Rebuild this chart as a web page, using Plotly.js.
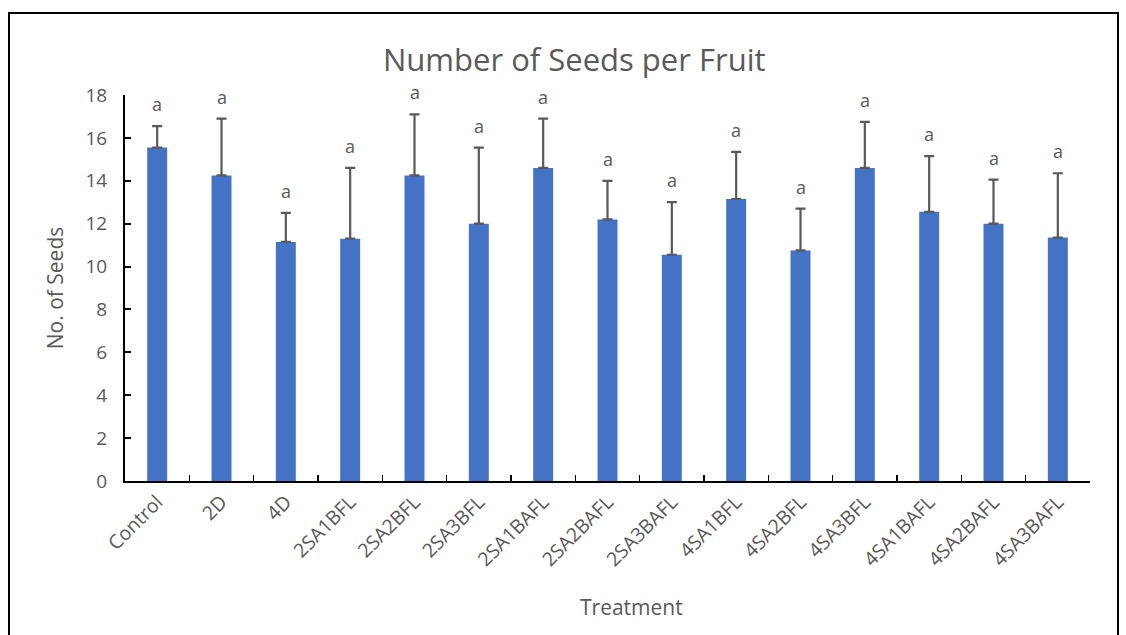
<!DOCTYPE html>
<html>
<head>
<meta charset="utf-8">
<script src="https://cdn.plot.ly/plotly-3.0.1.min.js"></script>
<style>
html,body{margin:0;padding:0;background:#fff;}
#wrap{position:relative;width:1126px;height:635px;}
#chart{width:1126px;height:635px;}
#frame{position:absolute;left:8px;top:12px;width:1111px;height:630px;border:2px solid #000;pointer-events:none;box-sizing:border-box;}
</style>
</head>
<body>
<div id="wrap"><div id="chart"></div><div id="frame"></div></div>
<script>
const categories = ["Control","2D","4D","2SA1BFL","2SA2BFL","2SA3BFL","2SA1BAFL","2SA2BAFL","2SA3BAFL","4SA1BFL","4SA2BFL","4SA3BFL","4SA1BAFL","4SA2BAFL","4SA3BAFL"];
const means = [15.55, 14.25, 11.15, 11.3, 14.25, 12.0, 14.6, 12.2, 10.55, 13.15, 10.75, 14.6, 12.55, 12.0, 11.35];
const sds   = [1.0, 2.65, 1.35, 3.3, 2.85, 3.55, 2.3, 1.8, 2.45, 2.2, 1.95, 2.15, 2.6, 2.05, 3.0];
const letters = ["a","a","a","a","a","a","a","a","a","a","a","a","a","a","a"];
const yTicks = [0,2,4,6,8,10,12,14,16,18];

const FONT = "'Open Sans', Lato, sans-serif";
const GRAY = "#595959";

const trace = {
  type: "bar",
  x: categories,
  y: means,
  marker: {color: "#4472C4"},
  error_y: {type: "data", symmetric: false, array: sds, arrayminus: sds.map(() => 0), color: GRAY, thickness: 2.2, width: 5},
  hoverinfo: "x+y"
};

const annotations = categories.map((c, i) => ({
  x: c, y: means[i] + sds[i], xref: "x", yref: "y",
  text: letters[i], showarrow: false, yanchor: "bottom", yshift: 8,
  font: {family: FONT, size: 18, color: GRAY}
}));
annotations.push({
  x: 0.525, y: 0, xref: "paper", yref: "paper", yanchor: "top", yshift: -110,
  text: "Treatment", showarrow: false, font: {family: FONT, size: 21, color: GRAY}
});

const layout = {
  width: 1126, height: 635,
  margin: {l: 125, r: 36, t: 95, b: 154},
  paper_bgcolor: "#fff", plot_bgcolor: "#fff",
  showlegend: false,
  bargap: 0.69,
  title: {text: "Number of Seeds per Fruit", x: 0.51, xanchor: "center", y: 0.905, yanchor: "middle",
          font: {family: FONT, size: 31, color: GRAY}},
  xaxis: {
    type: "category", tickson: "boundaries", ticks: "inside", ticklen: 6, tickcolor: "#000", tickwidth: 1.5,
    showline: true, linecolor: "#000", linewidth: 2, showgrid: false, zeroline: false,
    tickangle: -45, tickfont: {family: FONT, size: 19.5, color: GRAY}
  },
  yaxis: {
    range: [0, 18], tickvals: yTicks, ticks: "inside", ticklen: 6, tickcolor: "#000", tickwidth: 2,
    showline: true, linecolor: "#000", linewidth: 2, showgrid: false, zeroline: false,
    tickfont: {family: FONT, size: 19, color: GRAY}, ticklabelstandoff: 12,
    title: {text: "No. of Seeds", standoff: 16, font: {family: FONT, size: 21, color: GRAY}}
  },
  annotations: annotations
};

Plotly.newPlot("chart", [trace], layout, {displayModeBar: false, staticPlot: true});
</script>
</body>
</html>
